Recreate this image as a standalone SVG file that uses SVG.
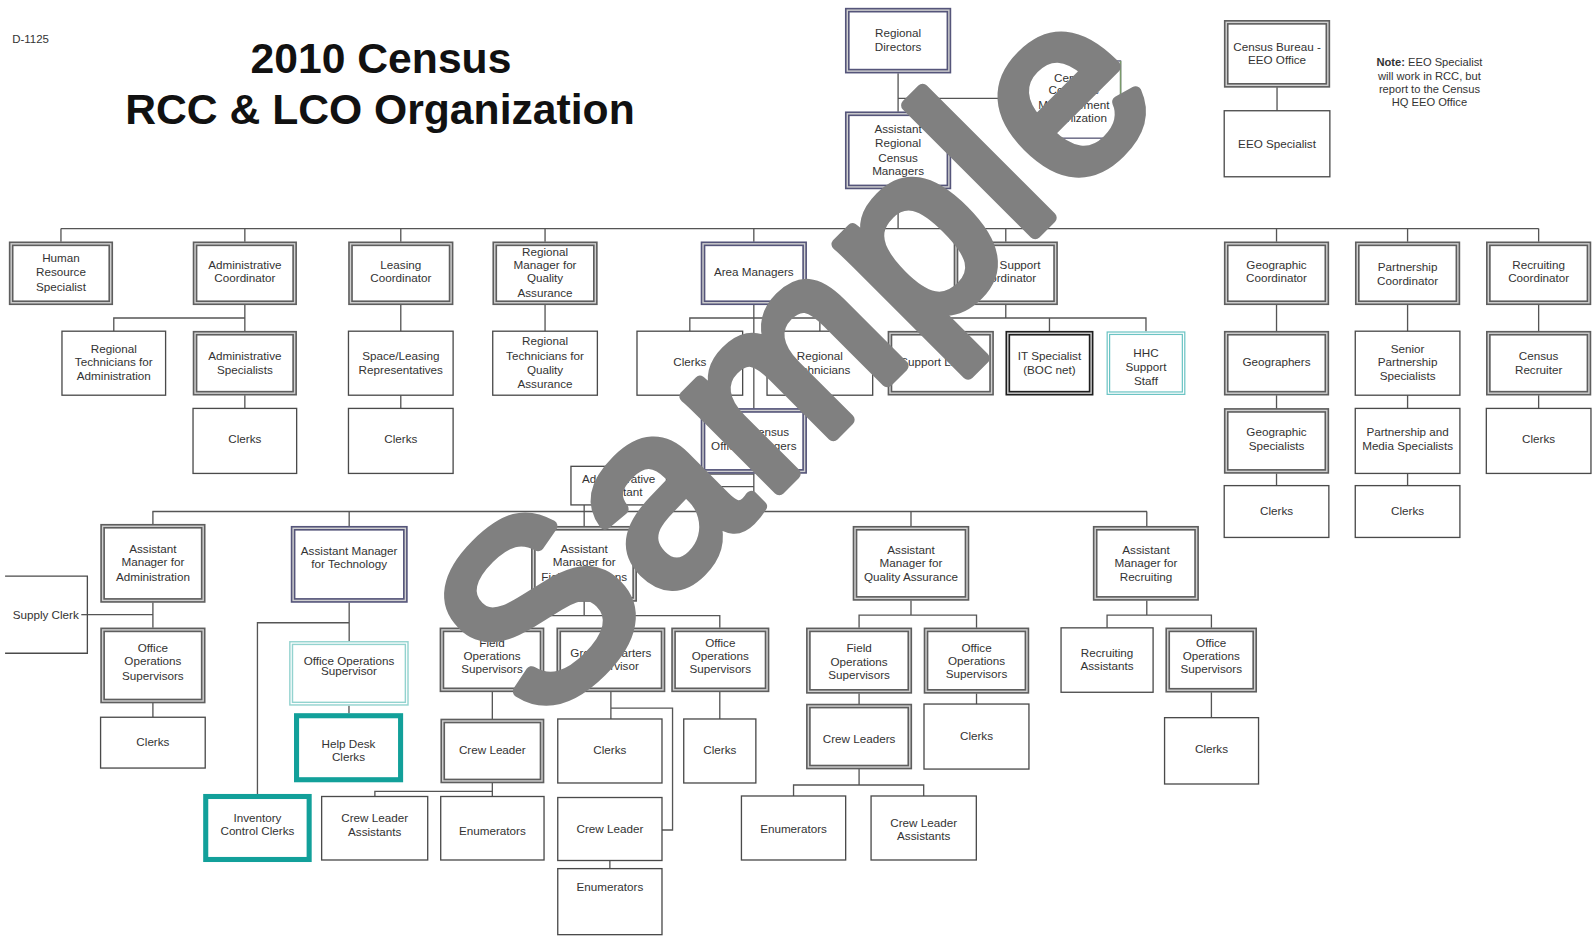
<svg xmlns="http://www.w3.org/2000/svg" width="1593" height="936" viewBox="0 0 1593 936">
<style>
.s{fill:#fff;stroke:#4a4a4a;stroke-width:1.3}
.d{fill:#fff;stroke:#5e5e5e;stroke-width:4.6}
.dp{fill:#fff;stroke:#55557a;stroke-width:4.6}
.dk{fill:#fff;stroke:#1e1e1e;stroke-width:4.6}
.di{fill:none;stroke:#d0d0d0;stroke-width:1.4}
.tl{fill:#fff;stroke:#6cc4c4;stroke-width:3.6}
.tl2{fill:#fff;stroke:#93d3cf;stroke-width:4}
.ti{fill:none;stroke:#fff;stroke-width:1.2}
.tk{fill:#fff;stroke:#12a09a;stroke-width:5}
.c{fill:none;stroke:#555;stroke-width:1.3}
.t{font-family:"Liberation Sans",Arial,sans-serif;font-size:11.5px;fill:#333;text-anchor:middle}
.title{font-family:"Liberation Sans",Arial,sans-serif;font-size:42px;font-weight:bold;fill:#111;text-anchor:middle}
.note{font-family:"Liberation Sans",Arial,sans-serif;font-size:11px;fill:#333;text-anchor:middle}
</style>
<rect width="1593" height="936" fill="#fff"/>
<g transform="scale(1.01594)">
<g id="header">
<text x="12" y="42.4" style="font-family:'Liberation Sans',Arial,sans-serif;font-size:11.3px;fill:#333">D-1125</text>
<text class="title" x="375" y="72">2010 Census</text>
<text class="title" x="374" y="122">RCC &amp; LCO Organization</text>
<text class="note" x="1407"><tspan x="1407" y="65"><tspan font-weight="bold">Note:</tspan>  EEO Specialist</tspan><tspan x="1407" y="79">will work in RCC, but</tspan><tspan x="1407" y="92">report to the Census</tspan><tspan x="1407" y="104">HQ EEO Office</tspan></text>
</g>
<g id="connectors">
<path class="c" d="M884,72V110M884,96.8H1010M1257,86V109M884,186V225M60,225H1514.5"/>
<path class="c" d="M60,225V238M241,225V238M394.5,225V238M536.5,225V238M742,225V238M990,225V238M1256.5,225V238M1385.5,225V238M1514.5,225V238"/>
<path class="c" d="M241,300V326M241,313H112V326M241,389V402M394.5,300V326M394.5,389V402M536.5,300V326"/>
<path class="c" d="M742,300V402M679,326V313H807V326M990,300V313M926,326V313H1128V326M1033,313V326"/>
<path class="c" d="M1256.5,300V326M1256.5,389V402M1256.5,466V478M1385.5,300V326M1385.5,389V402M1385.5,466V478M1514.5,300V326M1514.5,389V402"/>
<path class="c" d="M742,466V503.5M656,466.6H742M656,479H742M150,503.5H1129"/>
<path class="c" d="M150.5,503.5V518M343.7,503.5V520M575,497V520M896.7,503.5V520M1128.8,503.5V520"/>
<path class="c" d="M150.5,593V618M150.5,692V706M84,605H150.5"/>
<path class="c" d="M343.7,593V631M343.7,613H253.4V781.6M343.5,694.6V702"/>
<path class="c" d="M575,592V606M484.6,618V606H708.5V618M601.3,606V618M484.6,681V707.7M484.6,770.7V784M369,784V779H484.6"/>
<path class="c" d="M601.3,681V707.7M601.3,697H662V817H651.6M600.3,847V855M708.5,681V707.7"/>
<path class="c" d="M896.7,591V605.4M845.6,618V605.4H961.2V618M845.6,682.5V693M845.6,757V772.7M781.1,783.5V772.7H909.2V783.5M961.2,682.5V693"/>
<path class="c" d="M1128.8,591V605.4M1089.7,618V605.4H1192.4V618M1192.4,681.4V706.4"/>
</g>
<g id="regional-directors"><rect class="dp" x="834" y="10" width="100" height="60"/><rect class="di" x="834" y="10" width="100" height="60"/><text class="t"><tspan x="884" y="36">Regional</tspan><tspan x="884" y="50">Directors</tspan></text></g>
<g id="asst-regional"><rect class="dp" x="834" y="112" width="100" height="72"/><rect class="di" x="834" y="112" width="100" height="72"/><text class="t"><tspan x="884" y="131">Assistant</tspan><tspan x="884" y="145">Regional</tspan><tspan x="884" y="159">Census</tspan><tspan x="884" y="172">Managers</tspan></text></g>
<g id="ccm"><rect x="1010" y="60" width="93" height="76" fill="#fff" stroke="#5a5a78" stroke-width="1.3"/><path d="M1103,60V136" stroke="#7a9a6a" stroke-width="1.5"/><text class="t"><tspan x="1057" y="81">Census</tspan><tspan x="1057" y="93">Coverage</tspan><tspan x="1057" y="107">Measurement</tspan><tspan x="1057" y="120">Organization</tspan></text></g>
<g id="eeo-office"><rect class="d" x="1207" y="22" width="100" height="62"/><rect class="di" x="1207" y="22" width="100" height="62"/><text class="t"><tspan x="1257" y="50">Census Bureau -</tspan><tspan x="1257" y="63">EEO Office</tspan></text></g>
<g id="eeo-specialist"><rect class="s" x="1205" y="109" width="104" height="65"/><text class="t" x="1257" y="145.5">EEO Specialist</text></g>

<g id="hr"><rect class="d" x="11" y="240" width="98" height="58"/><rect class="di" x="11" y="240" width="98" height="58"/><text class="t"><tspan x="60" y="258">Human</tspan><tspan x="60" y="272">Resource</tspan><tspan x="60" y="286">Specialist</tspan></text></g>
<g id="admin-coord"><rect class="d" x="192" y="240" width="98" height="58"/><rect class="di" x="192" y="240" width="98" height="58"/><text class="t"><tspan x="241" y="265">Administrative</tspan><tspan x="241" y="278">Coordinator</tspan></text></g>
<g id="leasing-coord"><rect class="d" x="345" y="240" width="99" height="58"/><rect class="di" x="345" y="240" width="99" height="58"/><text class="t"><tspan x="394.5" y="265">Leasing</tspan><tspan x="394.5" y="278">Coordinator</tspan></text></g>
<g id="rmqa"><rect class="d" x="487" y="240" width="99" height="58"/><rect class="di" x="487" y="240" width="99" height="58"/><text class="t"><tspan x="536.5" y="252">Regional</tspan><tspan x="536.5" y="265">Manager for</tspan><tspan x="536.5" y="278">Quality</tspan><tspan x="536.5" y="292">Assurance</tspan></text></g>
<g id="area-managers"><rect class="dp" x="692" y="240" width="100" height="58"/><rect class="di" x="692" y="240" width="100" height="58"/><text class="t" x="742" y="272">Area Managers</text></g>
<g id="field-support"><rect class="d" x="941" y="240" width="98" height="58"/><rect class="di" x="941" y="240" width="98" height="58"/><text class="t"><tspan x="990" y="265">Field Support</tspan><tspan x="990" y="278">Coordinator</tspan></text></g>
<g id="geo-coord"><rect class="d" x="1207" y="240" width="99" height="58"/><rect class="di" x="1207" y="240" width="99" height="58"/><text class="t"><tspan x="1256.5" y="265">Geographic</tspan><tspan x="1256.5" y="278">Coordinator</tspan></text></g>
<g id="partner-coord"><rect class="d" x="1336" y="240" width="99" height="58"/><rect class="di" x="1336" y="240" width="99" height="58"/><text class="t"><tspan x="1385.5" y="267">Partnership</tspan><tspan x="1385.5" y="281">Coordinator</tspan></text></g>
<g id="recruit-coord"><rect class="d" x="1465" y="240" width="99" height="58"/><rect class="di" x="1465" y="240" width="99" height="58"/><text class="t"><tspan x="1514.5" y="265">Recruiting</tspan><tspan x="1514.5" y="278">Coordinator</tspan></text></g>

<g id="rta"><rect class="s" x="61" y="326" width="102" height="63"/><text class="t"><tspan x="112" y="347">Regional</tspan><tspan x="112" y="360">Technicians for</tspan><tspan x="112" y="374">Administration</tspan></text></g>
<g id="admin-spec"><rect class="d" x="192" y="328" width="98" height="59"/><rect class="di" x="192" y="328" width="98" height="59"/><text class="t"><tspan x="241" y="354">Administrative</tspan><tspan x="241" y="368">Specialists</tspan></text></g>
<g id="slr"><rect class="s" x="343" y="326" width="103" height="63"/><text class="t"><tspan x="394.5" y="354">Space/Leasing</tspan><tspan x="394.5" y="368">Representatives</tspan></text></g>
<g id="rtqa"><rect class="s" x="485" y="326" width="103" height="63"/><text class="t"><tspan x="536.5" y="340">Regional</tspan><tspan x="536.5" y="354">Technicians for</tspan><tspan x="536.5" y="368">Quality</tspan><tspan x="536.5" y="382">Assurance</tspan></text></g>
<g id="clerks-area"><rect class="s" x="627" y="326" width="104" height="63"/><text class="t" x="679" y="360">Clerks</text></g>
<g id="reg-tech"><rect class="s" x="755" y="326" width="104" height="63"/><text class="t"><tspan x="807" y="354">Regional</tspan><tspan x="807" y="368">Technicians</tspan></text></g>
<g id="support-liaison"><rect class="d" x="876" y="328" width="100" height="59"/><rect class="di" x="876" y="328" width="100" height="59"/><text class="t" x="926" y="360">Support Liaison</text></g>
<g id="it-specialist"><rect class="dk" x="992" y="328" width="82" height="59"/><rect class="di" x="992" y="328" width="82" height="59"/><text class="t"><tspan x="1033" y="354">IT Specialist</tspan><tspan x="1033" y="368">(BOC net)</tspan></text></g>
<g id="hhc"><rect class="tl" x="1091" y="328" width="74" height="59"/><rect class="ti" x="1091" y="328" width="74" height="59"/><text class="t"><tspan x="1128" y="351">HHC</tspan><tspan x="1128" y="365">Support</tspan><tspan x="1128" y="379">Staff</tspan></text></g>
<g id="geographers"><rect class="d" x="1207" y="328" width="99" height="59"/><rect class="di" x="1207" y="328" width="99" height="59"/><text class="t" x="1256.5" y="360">Geographers</text></g>
<g id="senior-partner"><rect class="s" x="1334" y="326" width="103" height="63"/><text class="t"><tspan x="1385.5" y="347">Senior</tspan><tspan x="1385.5" y="360">Partnership</tspan><tspan x="1385.5" y="374">Specialists</tspan></text></g>
<g id="census-recruiter"><rect class="d" x="1465" y="328" width="99" height="59"/><rect class="di" x="1465" y="328" width="99" height="59"/><text class="t"><tspan x="1514.5" y="354">Census</tspan><tspan x="1514.5" y="368">Recruiter</tspan></text></g>

<g id="clerks-admin"><rect class="s" x="190" y="402" width="102" height="64"/><text class="t" x="241" y="436">Clerks</text></g>
<g id="clerks-leasing"><rect class="s" x="343" y="402" width="103" height="64"/><text class="t" x="394.5" y="436">Clerks</text></g>
<g id="lcom"><rect class="dp" x="692" y="404" width="100" height="60"/><rect class="di" x="692" y="404" width="100" height="60"/><text class="t"><tspan x="742" y="429">Local Census</tspan><tspan x="742" y="443">Office Managers</tspan></text></g>
<g id="geo-spec"><rect class="d" x="1207" y="404" width="99" height="60"/><rect class="di" x="1207" y="404" width="99" height="60"/><text class="t"><tspan x="1256.5" y="429">Geographic</tspan><tspan x="1256.5" y="443">Specialists</tspan></text></g>
<g id="pms"><rect class="s" x="1334" y="402" width="103" height="64"/><text class="t"><tspan x="1385.5" y="429">Partnership and</tspan><tspan x="1385.5" y="443">Media Specialists</tspan></text></g>
<g id="clerks-recruit"><rect class="s" x="1463" y="402" width="103" height="64"/><text class="t" x="1514.5" y="436">Clerks</text></g>
<g id="clerks-geo"><rect class="s" x="1205" y="478" width="103" height="51"/><text class="t" x="1256.5" y="507">Clerks</text></g>
<g id="clerks-partner"><rect class="s" x="1334" y="478" width="103" height="51"/><text class="t" x="1385.5" y="507">Clerks</text></g>
<g id="admin-assistant"><rect class="s" x="562" y="459" width="94" height="38"/><text class="t"><tspan x="609" y="475">Administrative</tspan><tspan x="609" y="488">Assistant</tspan></text></g>

<g id="am-admin"><rect class="d" x="101" y="518" width="99" height="73"/><rect class="di" x="101" y="518" width="99" height="73"/><text class="t"><tspan x="150.5" y="544">Assistant</tspan><tspan x="150.5" y="557">Manager for</tspan><tspan x="150.5" y="571.6">Administration</tspan></text></g>
<g id="supply-clerk"><path d="M5,567H86V643H5" fill="#fff" stroke="#4a4a4a" stroke-width="1.3"/><text class="t" x="45" y="609">Supply Clerk</text><path class="c" d="M80,605H86"/></g>
<g id="oos-admin"><rect class="d" x="101" y="620" width="99" height="70"/><rect class="di" x="101" y="620" width="99" height="70"/><text class="t"><tspan x="150.5" y="641.5">Office</tspan><tspan x="150.5" y="655">Operations</tspan><tspan x="150.5" y="669">Supervisors</tspan></text></g>
<g id="clerks-admin2"><rect class="s" x="99" y="706" width="103" height="50"/><text class="t" x="150.5" y="734.6">Clerks</text></g>
<g id="am-tech"><rect class="dp" x="288.5" y="520" width="110.5" height="71"/><rect class="di" x="288.5" y="520" width="110.5" height="71"/><text class="t"><tspan x="343.7" y="546">Assistant Manager</tspan><tspan x="343.7" y="559">for Technology</tspan></text></g>
<g id="oos-tech"><rect class="tl2" x="286.6" y="633" width="113.7" height="59.6"/><rect class="ti" x="286.6" y="633" width="113.7" height="59.6"/><text class="t"><tspan x="343.5" y="654.3">Office Operations</tspan><tspan x="343.5" y="664">Supervisor</tspan></text></g>
<g id="help-desk"><rect class="tk" x="291.9" y="704.5" width="102.4" height="63"/><text class="t"><tspan x="343" y="736.3">Help Desk</tspan><tspan x="343" y="749.4">Clerks</tspan></text></g>
<g id="inventory"><rect class="tk" x="202.5" y="784" width="101.8" height="62"/><text class="t"><tspan x="253.4" y="809.5">Inventory</tspan><tspan x="253.4" y="822">Control Clerks</tspan></text></g>

<g id="am-fo"><rect class="d" x="525" y="520" width="99.7" height="70"/><rect class="di" x="525" y="520" width="99.7" height="70"/><text class="t"><tspan x="575" y="544.7">Assistant</tspan><tspan x="575" y="557.5">Manager for</tspan><tspan x="575" y="571.6">Field Operations</tspan></text></g>
<g id="fos-fo"><rect class="d" x="435" y="620" width="98.5" height="59"/><rect class="di" x="435" y="620" width="98.5" height="59"/><text class="t"><tspan x="484.3" y="636.6">Field</tspan><tspan x="484.3" y="649.4">Operations</tspan><tspan x="484.3" y="662.5">Supervisors</tspan></text></g>
<g id="gqs"><rect class="d" x="550" y="620" width="102.6" height="59"/><rect class="di" x="550" y="620" width="102.6" height="59"/><text class="t"><tspan x="601.3" y="647">Group Quarters</tspan><tspan x="601.3" y="659.6">Supervisor</tspan></text></g>
<g id="oos-fo"><rect class="d" x="663" y="620" width="92" height="59"/><rect class="di" x="663" y="620" width="92" height="59"/><text class="t"><tspan x="709" y="636.6">Office</tspan><tspan x="709" y="649.4">Operations</tspan><tspan x="709" y="662.5">Supervisors</tspan></text></g>
<g id="crew-leader-fo"><rect class="d" x="435.8" y="709.7" width="97.7" height="59"/><rect class="di" x="435.8" y="709.7" width="97.7" height="59"/><text class="t" x="484.6" y="742.3">Crew Leader</text></g>
<g id="cla-fo"><rect class="s" x="316.6" y="784" width="104.4" height="62.5"/><text class="t"><tspan x="368.8" y="809">Crew Leader</tspan><tspan x="368.8" y="822.6">Assistants</tspan></text></g>
<g id="enum-fo"><rect class="s" x="433.8" y="784" width="101.7" height="62.5"/><text class="t" x="484.6" y="821.7">Enumerators</text></g>
<g id="clerks-gq"><rect class="s" x="549" y="707.7" width="102.6" height="63"/><text class="t" x="600.3" y="742.3">Clerks</text></g>
<g id="crew-leader-gq"><rect class="s" x="549" y="785" width="102.6" height="62"/><text class="t" x="600.3" y="820.3">Crew Leader</text></g>
<g id="enum-gq"><rect class="s" x="549" y="855" width="102.6" height="65"/><text class="t" x="600.3" y="877">Enumerators</text></g>
<g id="clerks-oo-fo"><rect class="s" x="673" y="707.7" width="71" height="63"/><text class="t" x="708.5" y="742.3">Clerks</text></g>

<g id="am-qa"><rect class="d" x="841.6" y="520" width="110.2" height="69"/><rect class="di" x="841.6" y="520" width="110.2" height="69"/><text class="t"><tspan x="896.7" y="545.4">Assistant</tspan><tspan x="896.7" y="557.9">Manager for</tspan><tspan x="896.7" y="571.6">Quality Assurance</tspan></text></g>
<g id="fos-qa"><rect class="d" x="795.7" y="620" width="99.8" height="60.5"/><rect class="di" x="795.7" y="620" width="99.8" height="60.5"/><text class="t"><tspan x="845.6" y="641.5">Field</tspan><tspan x="845.6" y="656">Operations</tspan><tspan x="845.6" y="668.4">Supervisors</tspan></text></g>
<g id="oos-qa"><rect class="d" x="911.5" y="620" width="99.3" height="60.5"/><rect class="di" x="911.5" y="620" width="99.3" height="60.5"/><text class="t"><tspan x="961.2" y="641.5">Office</tspan><tspan x="961.2" y="654.6">Operations</tspan><tspan x="961.2" y="667.4">Supervisors</tspan></text></g>
<g id="crew-leaders-qa"><rect class="d" x="795.7" y="695" width="99.8" height="60"/><rect class="di" x="795.7" y="695" width="99.8" height="60"/><text class="t" x="845.6" y="731">Crew Leaders</text></g>
<g id="clerks-qa"><rect class="s" x="909.5" y="693" width="103.3" height="64"/><text class="t" x="961.2" y="728.5">Clerks</text></g>
<g id="enum-qa"><rect class="s" x="729.8" y="783.5" width="102.6" height="63"/><text class="t" x="781.1" y="820.3">Enumerators</text></g>
<g id="cla-qa"><rect class="s" x="857.4" y="783.5" width="103.6" height="63"/><text class="t"><tspan x="909.2" y="813.8">Crew Leader</tspan><tspan x="909.2" y="826.9">Assistants</tspan></text></g>

<g id="am-rec"><rect class="d" x="1078" y="520" width="99.8" height="69"/><rect class="di" x="1078" y="520" width="99.8" height="69"/><text class="t"><tspan x="1128" y="545.4">Assistant</tspan><tspan x="1128" y="557.9">Manager for</tspan><tspan x="1128" y="571.6">Recruiting</tspan></text></g>
<g id="rec-assist"><rect class="s" x="1044.4" y="618" width="90.6" height="63.4"/><text class="t"><tspan x="1089.7" y="647">Recruiting</tspan><tspan x="1089.7" y="659.2">Assistants</tspan></text></g>
<g id="oos-rec"><rect class="d" x="1149.4" y="620" width="85.6" height="59.4"/><rect class="di" x="1149.4" y="620" width="85.6" height="59.4"/><text class="t"><tspan x="1192.2" y="636.6">Office</tspan><tspan x="1192.2" y="649.7">Operations</tspan><tspan x="1192.2" y="662.8">Supervisors</tspan></text></g>
<g id="clerks-rec"><rect class="s" x="1146.3" y="706.4" width="92.5" height="65.3"/><text class="t" x="1192.5" y="741.2">Clerks</text></g>
</g>
<g id="watermark"><text x="540" y="728.5" transform="rotate(-45 540 728.5)" style="font-family:'Liberation Sans',Arial,sans-serif;font-size:250px;letter-spacing:7.6px;fill:#808080;stroke:#808080;stroke-width:12;stroke-linejoin:round">Sample</text></g>
</svg>
